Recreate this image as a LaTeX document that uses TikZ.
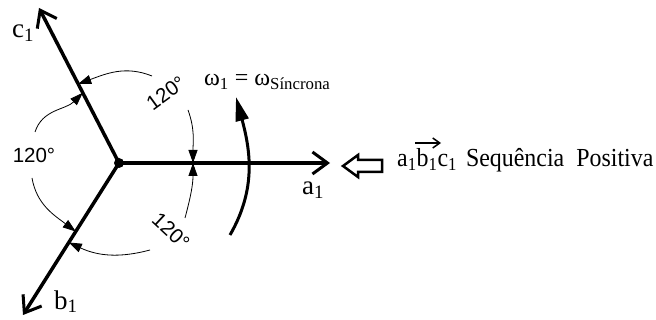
\documentclass[tikz,border=0pt]{standalone}
\usepackage{fontspec}
\setmainfont{Liberation Serif}
\newfontfamily\arialf{Liberation Sans}
\newfontfamily\seqfont[FakeStretch=0.92]{Liberation Serif}
\usetikzlibrary{arrows.meta,calc}
\begin{document}
\begin{tikzpicture}[x=1pt,y=1pt,
  axis/.style={line width=3.5pt, -{Straight Barb[length=15pt,width=22pt,line width=3pt]}},
  angarc/.style={line width=0.8pt, -{Triangle[length=13pt,width=9pt]}},
  omarc/.style={line width=3pt, -{Triangle[length=24pt,width=13pt]}},
  deg/.style={font=\arialf\fontsize{20.5}{20.5}\selectfont, inner sep=0pt},
  lbl/.style={font=\fontsize{27}{27}\selectfont, inner sep=0pt, anchor=base west}]
\useasboundingbox (0,0) rectangle (656,-320);
\fill[white] (0,0) rectangle (656,-320);
% axes
\coordinate (O) at (119,-163);
\coordinate (A) at (330,-163);
\coordinate (B) at (23,-315);
\coordinate (C) at (39,-8);
\draw[axis] (O) -- (A);
\draw[axis] (O) -- (B);
\draw[axis] (O) -- (C);
\fill (O) circle[radius=5];
% arc tips on axes
\coordinate (E1) at ($(O)!89pt!(C)$);
\coordinate (E4) at ($(O)!79pt!(C)$);
\coordinate (E2) at ($(O)!74pt!(A)$);
\coordinate (E3) at ($(O)!74pt!(A)$);
\coordinate (E5) at ($(O)!81pt!(B)$);
\coordinate (E6) at ($(O)!94pt!(B)$);
% arc free ends
\coordinate (S1) at (152,-76);
\coordinate (S2) at (188,-110);
\coordinate (S3) at (185,-218);
\coordinate (S4) at (35,-132);
\coordinate (S5) at (32,-178);
\coordinate (S6) at (150,-250);
\draw[angarc] (S1) to[out=158,in=20] (E1);
\draw[angarc] (S2) to[out=-70,in=90] (E2);
\draw[angarc] (S3) to[out=75,in=-90] (E3);
\draw[angarc] (S4) to[out=72,in=225] (E4);
\draw[angarc] (S5) to[out=-80,in=143] (E5);
\draw[angarc] (S6) to[out=195,in=-25] (E6);
% rotation arc
\coordinate (W1) at (230,-235);
\coordinate (W2) at (236,-97);
\draw[omarc] (W1) to[out=60,in=-75] (W2);
% angle labels
\node[deg] (d1) at (34,-155) {120°};
\node[deg,rotate=36] (d2) at (166,-93) {120°};
\node[deg,rotate=-43] (d3) at (171,-231) {120°};
% axis labels
\node[lbl] (la) at (302,-195) {a\textsubscript{1}};
\node[lbl] (lb) at (54,-309) {b\textsubscript{1}};
\node[lbl] (lc) at (12,-38) {c\textsubscript{1}};
\node[lbl,font=\fontsize{24}{24}\selectfont] (lw) at (204,-86) {ω\textsubscript{1} = ω\textsubscript{Síncrona}};
% hollow arrow
\draw[line width=2.5pt, line join=miter] (343,-166) -- (358,-155) -- (358,-160) -- (382,-160) -- (382,-172) -- (358,-172) -- (358,-177) -- cycle;
% sequence text
\node[lbl,font=\seqfont\fontsize{26}{26}\selectfont] (seq) at (397,-167) {a\textsubscript{1}b\textsubscript{1}c\textsubscript{1}\hspace{9pt}Sequência\hspace{12pt}Positiva};
\draw[line width=1.5pt, -{Straight Barb[length=7pt,width=10pt,line width=1.5pt]}] (415,-143) -- (441,-143);
\end{tikzpicture}
\end{document}
